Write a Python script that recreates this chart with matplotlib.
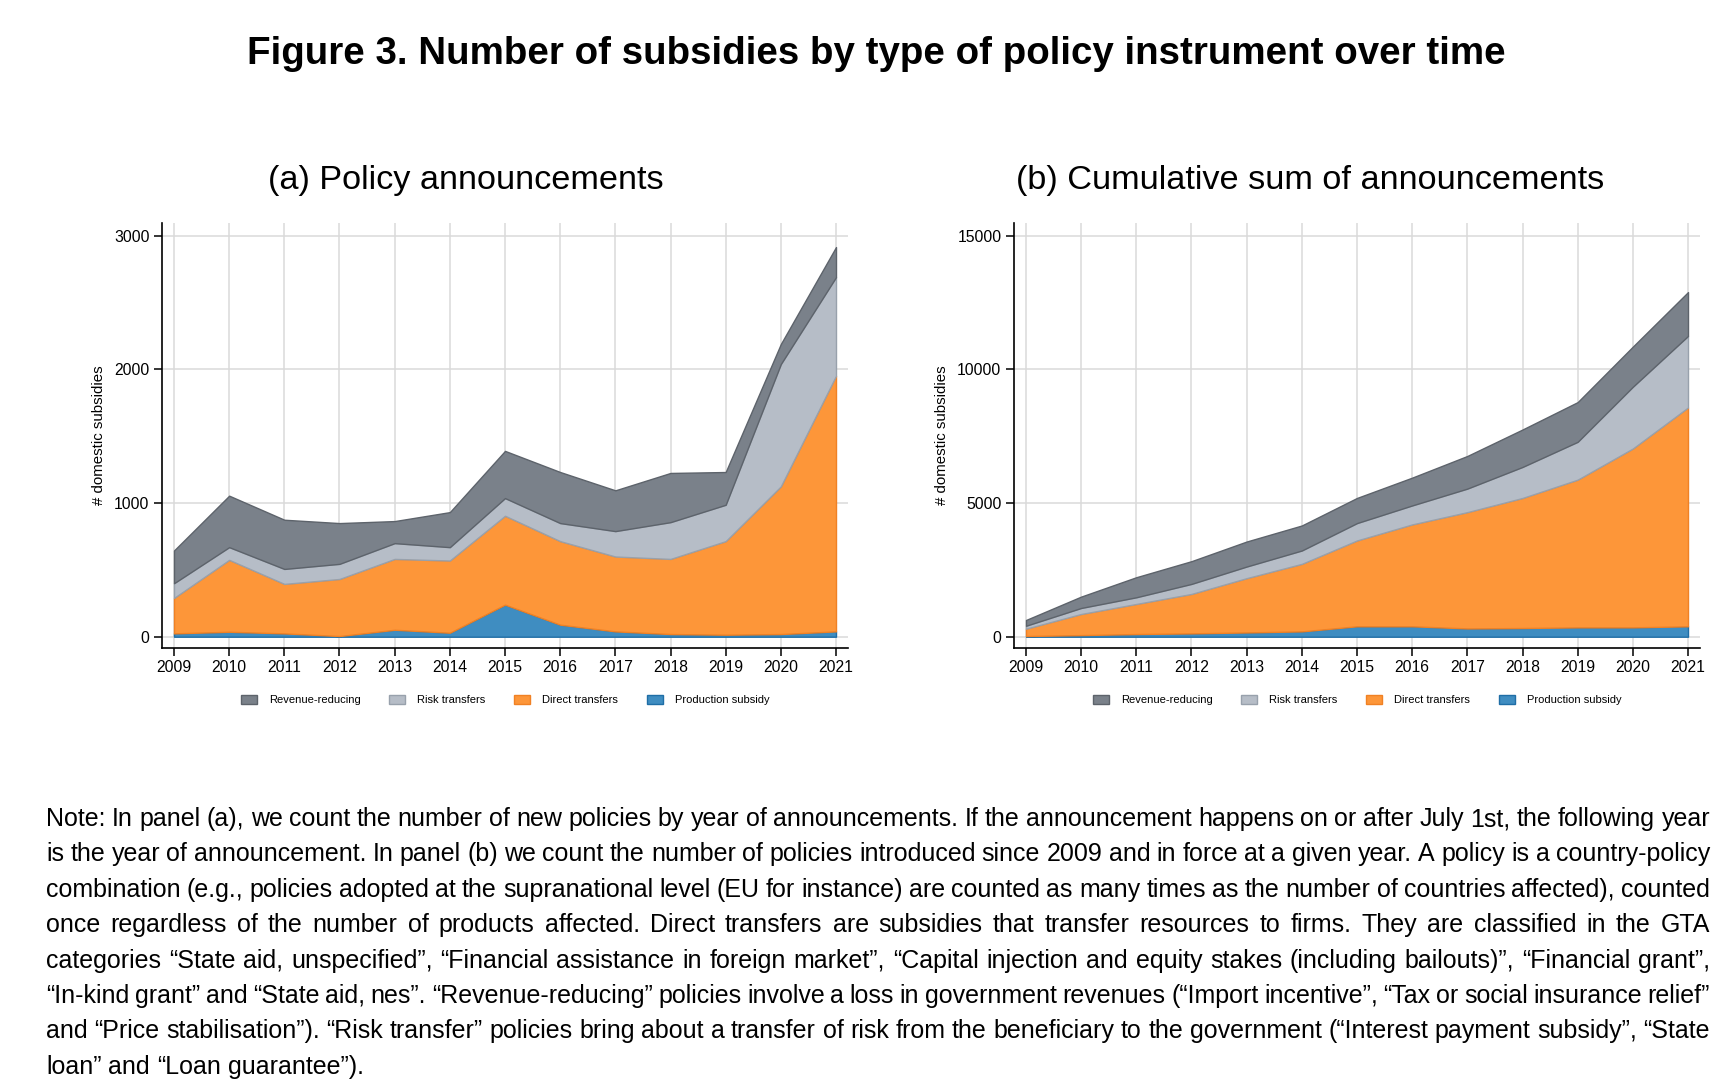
#!/usr/bin/env python3
"""Figure 3: number of subsidies by type of policy instrument over time."""
import matplotlib

matplotlib.use("Agg")
import matplotlib.pyplot as plt
import numpy as np

plt.rcParams["font.family"] = ["Liberation Sans", "DejaVu Sans"]

years = list(range(2009, 2022))
labels = ["Production subsidy", "Direct transfers", "Risk transfers", "Revenue-reducing"]

# panel (a): new announcements per year
prod_a = [25, 37, 25, 5, 52, 30, 240, 90, 40, 20, 15, 20, 40]
direct_a = [265, 538, 370, 427, 530, 540, 665, 625, 560, 562, 700, 1105, 1912]
risk_a = [110, 95, 112, 113, 118, 100, 132, 135, 190, 275, 272, 915, 738]
revenue_a = [245, 385, 368, 305, 165, 262, 353, 382, 305, 368, 245, 150, 225]

# panel (b): cumulative sum in force
prod_b = [25, 60, 100, 125, 160, 200, 390, 390, 310, 325, 350, 350, 390]
direct_b = [275, 790, 1125, 1475, 2030, 2525, 3210, 3810, 4350, 4865, 5525, 6690, 8185]
risk_b = [110, 225, 250, 375, 435, 500, 650, 710, 880, 1160, 1415, 2310, 2675]
revenue_b = [215, 425, 750, 850, 935, 935, 940, 1040, 1220, 1400, 1485, 1500, 1640]

fills = ["#3f8dc1", "#fd9639", "#b6bdc7", "#7a818a"]
edges = ["#1f6ea6", "#f08124", "#98a1ac", "#5d636b"]

note_lines = [
    "Note: In panel (a), we count the number of new policies by year of announcements. If the announcement happens on or after July 1st, the following year",
    "is the year of announcement. In panel (b) we count the number of policies introduced since 2009 and in force at a given year. A policy is a country-policy",
    "combination (e.g., policies adopted at the supranational level (EU for instance) are counted as many times as the number of countries affected), counted",
    "once regardless of the number of products affected. Direct transfers are subsidies that transfer resources to firms. They are classified in the GTA",
    "categories \u201cState aid, unspecified\u201d, \u201cFinancial assistance in foreign market\u201d, \u201cCapital injection and equity stakes (including bailouts)\u201d, \u201cFinancial grant\u201d,",
    "\u201cIn-kind grant\u201d and \u201cState aid, nes\u201d. \u201cRevenue-reducing\u201d policies involve a loss in government revenues (\u201cImport incentive\u201d, \u201cTax or social insurance relief\u201d",
    "and \u201cPrice stabilisation\u201d). \u201cRisk transfer\u201d policies bring about a transfer of risk from the beneficiary to the government (\u201cInterest payment subsidy\u201d, \u201cState",
    "loan\u201d and \u201cLoan guarantee\u201d).",
]

W, H = 1728, 1088
fig = plt.figure(figsize=(W / 100, H / 100), dpi=100)


def fx(px):
    return px / W


def fy(py):
    return 1 - py / H


def draw_panel(left_px, series, ymax, yticks, ylabel_x):
    ax = fig.add_axes([fx(left_px), fy(648), 686 / W, 425 / H])
    polys = ax.stackplot(years, *series, colors=fills, labels=labels, zorder=2)
    for p, ec in zip(polys, edges):
        p.set_edgecolor(ec)
        p.set_linewidth(1.0)
    ppu = 401 / ymax
    ax.set_ylim(-11.3 / ppu, 413.7 / ppu)
    ax.set_xlim(2009 - 12 / 55.17, 2021 + 12 / 55.17)
    ax.set_xticks(years)
    ax.set_yticks(yticks)
    ax.grid(True, color="#dadada", linewidth=1.1, zorder=0)
    ax.set_axisbelow(True)
    for s in ("top", "right"):
        ax.spines[s].set_visible(False)
    for s in ("left", "bottom"):
        ax.spines[s].set_linewidth(1.2)
    ax.tick_params(direction="out", length=6, width=1.1, labelsize=11.3, pad=3)
    ax.set_ylabel("# domestic subsidies", fontsize=10.8)
    ax.yaxis.set_label_coords(ylabel_x, 0.5)
    handles, lab = ax.get_legend_handles_labels()
    ax.legend(handles[::-1], lab[::-1], loc="center", bbox_to_anchor=(0.5, -0.122),
              ncol=4, frameon=False, fontsize=8, handlelength=1.45, handleheight=0.9,
              handletextpad=1.05, columnspacing=2.6)
    return ax


draw_panel(162, [prod_a, direct_a, risk_a, revenue_a], 3000, [0, 1000, 2000, 3000], -0.082)
draw_panel(1014, [prod_b, direct_b, risk_b, revenue_b], 15000, [0, 5000, 10000, 15000], -0.095)

fig.text(fx(876), fy(54), "Figure 3. Number of subsidies by type of policy instrument over time",
         ha="center", va="center", fontsize=27.7, fontweight="bold")
fig.text(fx(466), fy(181), "(a) Policy announcements", ha="center", va="center", fontsize=24.7)
fig.text(fx(1310), fy(181), "(b) Cumulative sum of announcements", ha="center", va="center", fontsize=24.7)

# justified note text, one text per word so each line fills the width
renderer = fig.canvas.get_renderer()
note_left, note_right = 46, 1710
note_size = 18
probe = fig.text(0, 0, "a a", fontsize=note_size)
probe1 = fig.text(0, 0, "aa", fontsize=note_size)
space_w = probe.get_window_extent(renderer).width - probe1.get_window_extent(renderer).width
probe.remove()
probe1.remove()
for i, line in enumerate(note_lines):
    y = fy(826 + i * 35.4)
    words = line.split(" ")
    texts = [fig.text(0, y, w, ha="left", va="baseline", fontsize=note_size) for w in words]
    widths = [t.get_window_extent(renderer).width for t in texts]
    if i == len(note_lines) - 1:
        gap = space_w
    else:
        gap = (note_right - note_left - sum(widths)) / (len(words) - 1)
    x = note_left
    for t, w in zip(texts, widths):
        t.set_x(fx(x))
        x += w + gap

fig.savefig("out.png", dpi=100)
